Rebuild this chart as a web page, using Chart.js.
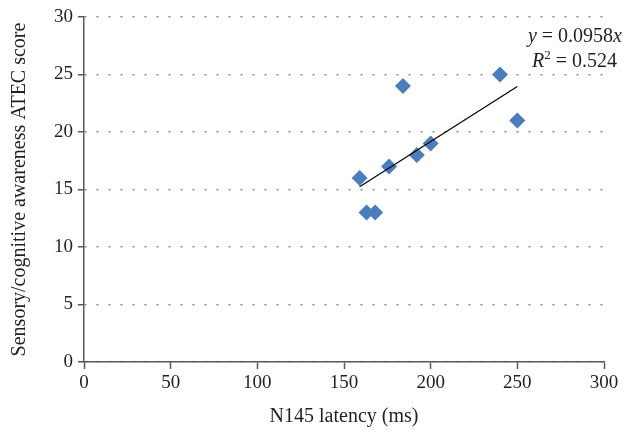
<!DOCTYPE html>
<html>
<head>
<meta charset="utf-8">
<script src="https://cdn.jsdelivr.net/npm/chart.js@4.4.0/dist/chart.umd.min.js"></script>
<style>
  html, body { margin: 0; padding: 0; background: #fff; }
  #wrap { width: 635px; height: 433px; }
</style>
</head>
<body>
<div id="wrap"><canvas id="chart"></canvas></div>
<script>
const latency = [159, 163, 168, 176, 184, 192, 200, 240, 250];
const atecScore = [16, 13, 13, 17, 24, 18, 19, 25, 21];
const slope = 0.0958;
const rSquared = 0.524;
const xTicks = [0, 50, 100, 150, 200, 250, 300];
const yTicks = [0, 5, 10, 15, 20, 25, 30];

const serif = "'Liberation Serif', 'DejaVu Serif', serif";
const textColor = "#231f20";
const axisColor = "#595959";

const points = latency.map((x, i) => ({ x: x, y: atecScore[i] }));
const xMin = Math.min(...latency);
const xMax = Math.max(...latency);
const trend = [
  { x: xMin, y: slope * xMin },
  { x: xMax, y: slope * xMax },
];

// equation label, drawn right-aligned like the Excel trendline label
const equationLabel = {
  id: "equationLabel",
  afterDraw(chart) {
    const ctx = chart.ctx;
    const normal = "20px " + serif;
    const italic = "italic 20px " + serif;
    const small = "13px " + serif;
    ctx.save();
    ctx.fillStyle = textColor;
    ctx.textBaseline = "alphabetic";
    ctx.textAlign = "left";

    const line1 = [
      { t: "y", f: italic, dy: 0 },
      { t: " = " + slope.toFixed(4), f: normal, dy: 0 },
      { t: "x", f: italic, dy: 0 },
    ];
    const line2 = [
      { t: "R", f: italic, dy: 0 },
      { t: "2", f: small, dy: -8 },
      { t: " = " + rSquared.toFixed(3), f: normal, dy: 0 },
    ];
    const drawLine = (parts, right, base) => {
      let w = 0;
      parts.forEach((p) => { ctx.font = p.f; w += ctx.measureText(p.t).width; });
      let x = right - w;
      parts.forEach((p) => {
        ctx.font = p.f;
        ctx.fillText(p.t, x, base + p.dy);
        x += ctx.measureText(p.t).width;
      });
    };
    drawLine(line1, 622, 42);
    drawLine(line2, 617, 67);
    ctx.restore();
  },
};

new Chart(document.getElementById("chart"), {
  type: "scatter",
  plugins: [equationLabel],
  data: {
    datasets: [
      {
        type: "line",
        data: trend,
        borderColor: "#000000",
        borderWidth: 1.2,
        pointRadius: 0,
        fill: false,
        order: 0,
      },
      {
        data: points,
        pointStyle: "rectRot",
        pointRadius: 8,
        pointHoverRadius: 8,
        backgroundColor: "#4a7ebb",
        borderColor: "#4a7ebb",
        borderWidth: 0,
        order: 1,
      },
    ],
  },
  options: {
    responsive: true,
    maintainAspectRatio: false,
    animation: false,
    layout: { padding: { top: 17, right: 31, left: 0, bottom: 0 } },
    plugins: {
      legend: { display: false },
      tooltip: { enabled: false },
    },
    scales: {
      x: {
        type: "linear",
        min: 0,
        max: 300,
        afterBuildTicks: (scale) => { scale.ticks = xTicks.map((v) => ({ value: v })); },
        afterFit: (scale) => { scale.height = 71; },
        border: { display: true, color: axisColor, width: 1.5 },
        grid: {
          drawOnChartArea: false,
          drawTicks: true,
          tickLength: 7,
          tickColor: axisColor,
          tickWidth: 1.5,
        },
        ticks: {
          color: textColor,
          padding: 3,
          maxRotation: 0,
          font: { family: serif, size: 19 },
        },
        title: {
          display: true,
          text: "N145 latency (ms)",
          color: textColor,
          padding: { top: 0, bottom: 4 },
          font: { family: serif, size: 20 },
        },
      },
      y: {
        type: "linear",
        min: 0,
        max: 30,
        afterBuildTicks: (scale) => { scale.ticks = yTicks.map((v) => ({ value: v })); },
        afterFit: (scale) => { scale.width = 84; },
        border: { display: true, color: axisColor, width: 1.5, dash: [2, 10] },
        grid: {
          color: "#8a8a8a",
          lineWidth: 1.5,
          drawTicks: true,
          tickLength: 6,
          tickColor: axisColor,
          tickWidth: 1.5,
          tickBorderDash: [],
        },
        ticks: {
          color: textColor,
          padding: 5,
          font: { family: serif, size: 19 },
        },
        title: {
          display: true,
          text: "Sensory/cognitive awareness ATEC score",
          color: textColor,
          padding: { top: 8, bottom: 0 },
          font: { family: serif, size: 20 },
        },
      },
    },
  },
});
</script>
</body>
</html>
